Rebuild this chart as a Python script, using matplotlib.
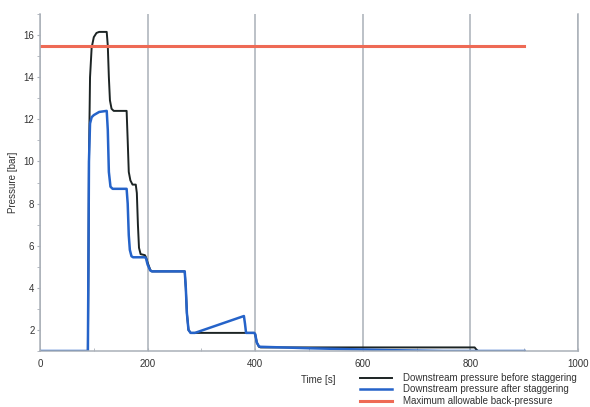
import matplotlib.pyplot as plt
from matplotlib.ticker import MultipleLocator

# pressure data
t_before = [0, 89, 90, 91, 93, 96, 100, 105, 110, 124, 126, 128, 130, 133, 137,
            161, 163, 165, 168, 170, 172, 178, 180, 182, 184, 187, 195, 197, 200,
            205, 208, 269, 271, 273, 276, 280, 398, 400, 403, 407, 410, 808, 810, 812]
p_before = [1, 1, 5, 10, 14, 15.4, 15.9, 16.1, 16.15, 16.15, 15.5, 14, 12.9, 12.5, 12.4,
            12.4, 11, 9.5, 9.1, 9.0, 8.9, 8.9, 8.5, 7, 5.9, 5.6, 5.55, 5.45, 5.2,
            4.85, 4.78, 4.78, 4, 2.8, 2.0, 1.86, 1.86, 1.8, 1.4, 1.2, 1.17, 1.17, 1.1, 1.05]

t_after = [0, 89, 90, 91, 93, 96, 100, 110, 124, 126, 128, 131, 135,
           161, 163, 165, 167, 170, 173, 195, 197, 200, 205, 208,
           269, 271, 273, 276, 280, 288, 379, 381, 383, 398, 400, 403, 407, 410,
           450, 500, 550, 600, 650, 700, 750, 901]
p_after = [1, 1, 5, 10, 11.8, 12.1, 12.2, 12.35, 12.4, 11.5, 9.5, 8.8, 8.7,
           8.7, 8.0, 6.5, 5.8, 5.5, 5.45, 5.45, 5.4, 5.1, 4.82, 4.78,
           4.78, 4, 2.8, 2.0, 1.86, 1.86, 2.66, 2.3, 1.86, 1.86, 1.8, 1.4, 1.22, 1.2,
           1.17, 1.13, 1.1, 1.07, 1.04, 1.02, 1.0, 1.0]

t_max = [0, 900]
p_max = [15.5, 15.5]

plt.rcParams['font.family'] = ['Liberation Sans', 'DejaVu Sans']

fig = plt.figure(figsize=(5.9, 4.07), dpi=100)
ax = fig.add_axes([40/590, 1-351/407, (578-40)/590, (351-14)/407])

ax.plot(t_before, p_before, color='#1c2424', lw=1.4, label='Downstream pressure before staggering')
ax.plot(t_after, p_after, color='#2563c9', lw=1.8, label='Downstream pressure after staggering')
ax.plot(t_max, p_max, color='#ee6a55', lw=2.2, label='Maximum allowable back-pressure')

ax.set_xlim(0, 1000)
ax.set_ylim(1, 17)
ax.set_xticks([0, 200, 400, 600, 800, 1000])
ax.set_yticks([2, 4, 6, 8, 10, 12, 14, 16])
ax.xaxis.set_minor_locator(MultipleLocator(100))
ax.yaxis.set_minor_locator(MultipleLocator(1))

gc = '#aab0b8'
ax.grid(True, axis='x', color=gc, lw=1.1)
ax.spines['top'].set_visible(False)
for s in ['left', 'bottom', 'right']:
    ax.spines[s].set_color(gc)
    ax.spines[s].set_linewidth(1.1)
ax.tick_params(which='major', length=2.5, color=gc, labelsize=7, labelcolor='#333333')
ax.tick_params(which='minor', length=2, color=gc)
ax.tick_params(axis='y', which='both', pad=1.5)
ax.tick_params(axis='x', which='both', direction='in', pad=6)

ax.set_ylabel('Pressure [bar]', fontsize=7, color='#333333', labelpad=4)
fig.text(318/590, 1-380/407, 'Time [s]', ha='center', va='center', fontsize=7, color='#333333')

fig.legend(loc='upper left', bbox_to_anchor=(360/590, 1-373/407), frameon=False,
           fontsize=7, handlelength=3.3, labelspacing=0.15, borderpad=0, borderaxespad=0,
           handletextpad=1.1, labelcolor='#333333')

fig.savefig('out.png', dpi=100)
